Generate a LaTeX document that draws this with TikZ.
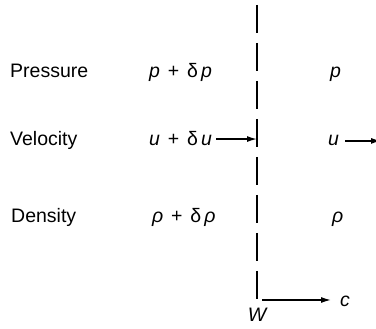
\documentclass[tikz,border=0pt]{standalone}
\usepackage{fontspec}
\setmainfont{Liberation Sans}
\usepackage{tikz}
\usetikzlibrary{positioning,arrows.meta}

\tikzset{
  rowlabel/.style={anchor=base west, inner sep=0pt, font=\fontsize{19.5}{22}\selectfont},
  quantity/.style={anchor=base west, inner sep=0pt, font=\fontsize{19.5}{22}\selectfont\itshape},
  flow/.style={-{Latex[length=10pt,width=6pt]}, line width=1.4pt},
  wall/.style={line width=2.6pt, dash pattern=on 28.5pt off 9.5pt},
}
\newcommand{\gap}{\hspace{0.4em}}

\begin{document}
\begin{tikzpicture}[x=1pt, y=-1pt]
  \useasboundingbox (0,0) rectangle (376,329);
  % wave front
  \coordinate (wtop) at (257,5);
  \coordinate (wbot) at (257,300);
  \coordinate (uout) at (381,0);
  \draw[wall] (wtop) -- (wbot);
  % row labels
  \node[rowlabel] (pressure) at (10,78) {Pressure};
  \node[rowlabel] (velocity) at (10,146) {Velocity};
  \node[rowlabel] (density) at (11,223) {Density};
  % behind the wave
  \node[quantity] (pleft) at (149,78) {p\gap{\upshape +}\gap{\upshape δ}\,p};
  \node[quantity] (uleft) at (149,146) {u\gap{\upshape +}\gap{\upshape δ}\,u};
  \node[quantity] (rholeft) at (152,223) {ρ\gap{\upshape +}\gap{\upshape δ}\,ρ};
  % ahead of the wave
  \node[quantity] (pright) at (330,78) {p};
  \node[quantity] (uright) at (328,146) {u};
  \node[quantity] (rhoright) at (332,223) {ρ};
  % velocities
  \draw[flow, shorten <=4pt] (uleft.east) -- (uleft.east -| wtop);
  \draw[flow, shorten <=6pt] (uright.east) -- (uright.east -| uout);
  % wave speed
  \node[quantity] (clabel) at (340,307) {c};
  \node[quantity, below=8pt of wbot] (wlabel) {W};
  \draw[flow, shorten <=5pt, shorten >=9pt] (wbot) -- (wbot -| clabel.west);
\end{tikzpicture}
\end{document}
